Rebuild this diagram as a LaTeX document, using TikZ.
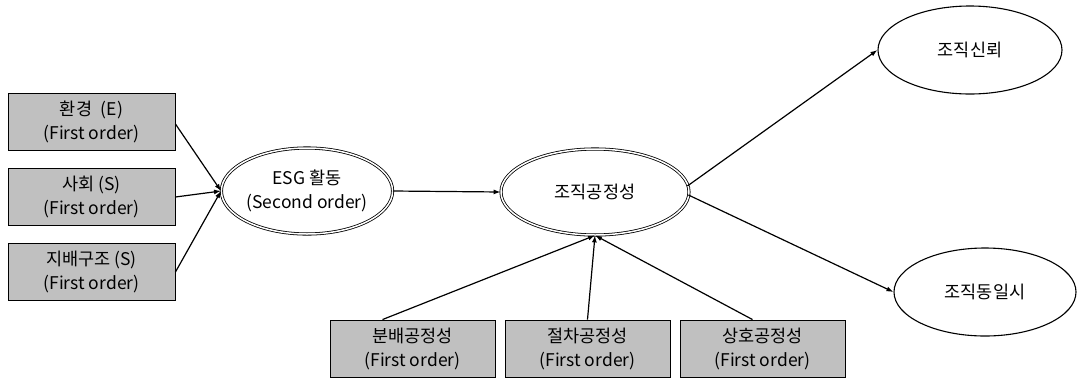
\documentclass[tikz,border=0pt]{standalone}
\usepackage{fontspec}
\newfontfamily\kr{Noto Sans CJK KR}
\usetikzlibrary{shapes.geometric,arrows.meta}
\begin{document}
\begin{tikzpicture}[x=1pt,y=-1pt,
  every node/.style={font=\kr\fontsize{17.5}{24}\selectfont, align=center, inner sep=0pt},
  fobox/.style={draw, line width=0.9pt, fill={rgb,255:red,192;green,192;blue,192}, minimum width=167pt, minimum height=57pt},
  dell/.style={ellipse, draw, double, double distance=1.5pt, line width=0.8pt, minimum width=168pt, minimum height=86pt},
  sell/.style={ellipse, draw, line width=1.1pt, minimum width=184pt, minimum height=88pt},
  conn/.style={line width=1.2pt, -{Latex[length=7pt,width=5pt]}}
]
\useasboundingbox (0,0) rectangle (1079,381);
% left boxes
\node[fobox] (env) at (91.5,122) {환경\enspace (E)\\(First order)};
\node[fobox] (soc) at (91.5,197) {사회 (S)\\(First order)};
\node[fobox] (gov) at (91.5,272) {지배구조 (S)\\(First order)};
% ellipses
\node[dell] (esg) at (307,191) {ESG 활동\\(Second order)};
\node[dell, minimum width=188pt, minimum height=86pt] (fair) at (595,192) {조직공정성};
\node[sell] (trust) at (970,50) {조직신뢰};
\node[sell, minimum width=182pt] (ident) at (985,292) {조직동일시};
% bottom boxes
\node[fobox, minimum width=165pt] (dist) at (412.5,348.5) {분배공정성\\(First order)};
\node[fobox, minimum width=165pt] (proc) at (587.5,348.5) {절차공정성\\(First order)};
\node[fobox, minimum width=165pt] (inter) at (762.5,348.5) {상호공정성\\(First order)};
% connectors
\draw[conn] (env.east) ++(0,2) coordinate (envo) -- (esg.west);
\draw[conn] (soc.east) -- (esg.west);
\draw[conn] (gov.east) -- (esg.west);
\draw[conn] (esg.east) -- (fair.west);
\draw[conn] (dist.north) ++(-30,0) coordinate (disto) -- (fair.south);
\draw[conn] (proc.north) -- (fair.south);
\draw[conn] (inter.north) ++(-10,0) coordinate (intero) -- (fair.south);
\draw[conn] (fair.east) ++(-2,-6) coordinate (fo1) -- (trust.west);
\draw[conn] (fair.east) ++(-1,3) coordinate (fo2) -- (ident.west);
\end{tikzpicture}
\end{document}
